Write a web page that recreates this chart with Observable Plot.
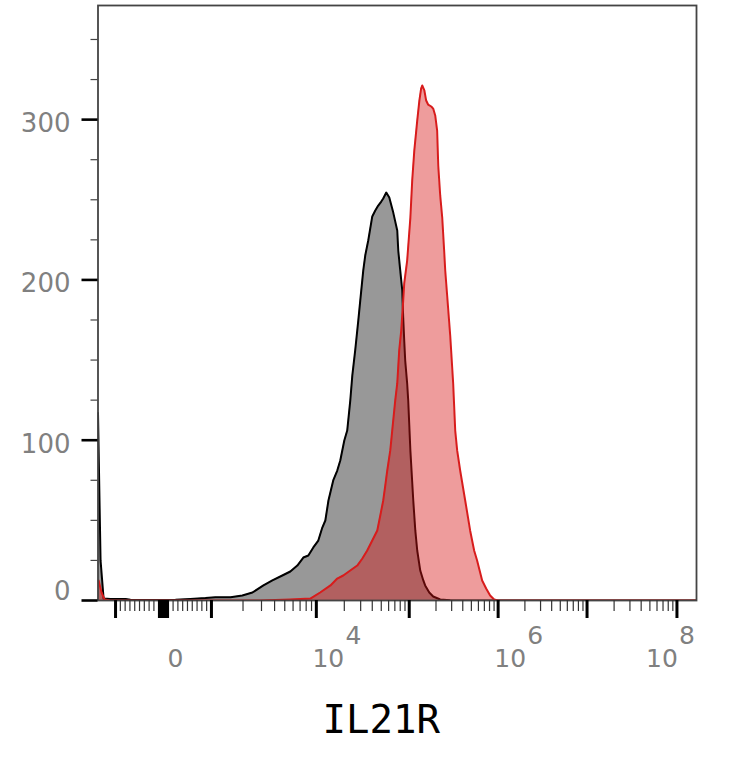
<!DOCTYPE html>
<html><head><meta charset="utf-8">
<script src="https://cdn.jsdelivr.net/npm/d3@7"></script>
<script src="https://cdn.jsdelivr.net/npm/@observablehq/plot@0.6"></script>
<style>body{margin:0;background:#fff}</style>
</head><body><div id="chart"></div>
<script>
// ---- data: fluorescence intensity (IL21R) vs. event count ----
const grayX = [-1470, -1390, -1300, -1120, -790, -690, -270, 250, 560, 875, 1090, 1520, 1970, 2460, 3130, 3810, 4740, 5650, 6590, 7520, 8390, 9360, 10500, 11600, 12500, 13500, 15200, 16800, 18100, 20000, 21500, 23200, 24400, 26200, 28300, 29700, 32000, 33600, 36200, 40000, 43100, 46400, 50000, 52500, 56600, 61000, 67300, 74300, 76200, 80000, 84100, 86100, 88300, 90500, 95000, 97500, 103000, 111000, 117000, 123000, 133000, 144000, 151000, 168000, 186000, 223000, 289000, 484000, 1e6, 1e7, 1e8, 1.65e8];
const grayCount = [117, 25, 1.2, 1, 1, 0.5, 0.3, 0.5, 1, 1.5, 2, 2, 3.1, 5, 9.4, 12.5, 15.6, 18.1, 21.8, 26.8, 28.1, 33.1, 37.4, 45.5, 49.9, 62.4, 74.9, 81.1, 87.3, 99.8, 106, 124.8, 140.4, 156, 174.7, 187.1, 205.9, 215.2, 224.6, 239.6, 243.3, 246.4, 248.9, 250.8, 254.5, 251.4, 242, 230.8, 218.3, 205.9, 193.4, 176.5, 162.2, 149.7, 135.4, 124.8, 93.6, 62.4, 43.7, 31.2, 18.7, 12.5, 9.4, 5, 2.5, 0.6, 0.2, 0, 0, 0, 0, 0];
const redX = [-1450, -1360, -1270, -1120, 2930, 4070, 5650, 7040, 8770, 11000, 14200, 16800, 19500, 23200, 27600, 31300, 35300, 40000, 45300, 48800, 52500, 55200, 58000, 62500, 65600, 70700, 74300, 78000, 82000, 86100, 88300, 95000, 103000, 108000, 114000, 123000, 130000, 136000, 140000, 148000, 155000, 163000, 177000, 186000, 196000, 206000, 212000, 223000, 235000, 247000, 254000, 267000, 289000, 312000, 329000, 346000, 374000, 426000, 484000, 537000, 580000, 661000, 733000, 813000, 902000, 1e6, 1e7, 1e8, 1.65e8];
const redCount = [12.5, 5, 0.6, 0, 0, 0.3, 0.6, 0.9, 1.2, 5, 9.4, 13.7, 15.6, 18.7, 21.8, 26.2, 31.2, 37.4, 43.7, 53, 62.4, 71.7, 81.1, 93.6, 106, 124.8, 135.4, 156, 168.4, 187.1, 197.8, 212.1, 238.9, 262, 280.7, 299.4, 311.9, 319.4, 321.3, 318.2, 311.9, 309.4, 308.2, 306.9, 302.6, 293.2, 271.4, 252.7, 238.9, 218.3, 205.9, 190.3, 165.3, 135.4, 106, 93.6, 81.1, 62.4, 43.7, 31.2, 25, 12.5, 7.5, 3.1, 0.6, 0, 0, 0, 0];

const yMajorTicks = [0, 100, 200, 300];
const yMinorTicks = [25, 50, 75, 125, 150, 175, 225, 250, 275, 325, 350];
const xMajorTicks = [-1000, 0, 1000, 1e4, 1e5, 1e6, 1e7, 1e8];
const xLabelValues = [0, 1e4, 1e6, 1e8];
const xLabelBase = ["0", "10", "10", "10"];
const xLabelExp = ["", "4", "6", "8"];
const axisTitle = "IL21R";

// ---- logicle-like display transform (linear near zero, log by decades) ----
const decadeExp = [3, 4, 5, 6, 7, 8];
const decadePos = [0.48, 1.53, 2.46, 3.35, 4.24, 5.14];
const expToPos = d3.scaleLinear().domain(decadeExp).range(decadePos);
function T(v) {
  const a = Math.abs(v);
  const p = a <= 1000 ? decadePos[0] * a / 1000 : expToPos(Math.log10(a));
  return v < 0 ? -p : p;
}
const xDomain = [T(-1470), T(1.65e8)];
const inDomain = v => T(v) >= xDomain[0] && T(v) <= xDomain[1];

const gray = grayX.map((v, i) => ({v, c: grayCount[i]}));
const red = redX.map((v, i) => ({v, c: redCount[i]}));

const xMinor = [];
for (let k = 3; k < 8; k++) for (let m = 2; m <= 9; m++) xMinor.push(m * 10 ** k);
for (let m = 1; m <= 9; m++) xMinor.push(m * 100, -m * 100);
const xFine = [];
for (let m = 1; m <= 9; m++) xFine.push(m * 10, -m * 10);

const font = "DejaVu Sans";
const labelIdx = xLabelValues.map((_, i) => i);
const lastIdx = labelIdx.length - 1;

const chart = Plot.plot({
  width: 734,
  height: 768,
  marginLeft: 97.5,
  marginRight: 38,
  marginTop: 5,
  marginBottom: 168,
  style: {background: "#fff", fontFamily: font},
  x: {domain: xDomain, type: "linear"},
  y: {domain: [0, 371.2]},
  marks: [
    Plot.areaY(gray, {x: d => T(d.v), y: "c", fill: "#989898", curve: "linear", clip: true}),
    Plot.lineY(gray, {x: d => T(d.v), y: "c", stroke: "#000", strokeWidth: 2, curve: "linear", clip: true}),
    Plot.areaY(red, {x: d => T(d.v), y: "c", fill: "rgb(215,20,20)", fillOpacity: 0.42, curve: "linear", clip: true}),
    Plot.lineY(red, {x: d => T(d.v), y: "c", stroke: "#d81c1c", strokeWidth: 2, curve: "linear", clip: true}),
    Plot.frame({stroke: "#444", strokeWidth: 1.8}),
    // y axis ticks
    Plot.axisY({ticks: yMinorTicks, tickSize: 7, stroke: "#444", strokeWidth: 1.2, tickFormat: () => "", label: null}),
    Plot.axisY({ticks: yMajorTicks, tickSize: 16, stroke: "#000", strokeWidth: 2.6, tickFormat: () => "", label: null}),
    Plot.text(yMajorTicks.filter(d => d !== 0), {y: d => d, text: d => String(d), frameAnchor: "left", dx: -27.5, dy: 4, textAnchor: "end", fontSize: 26, fill: "#808080", fontFamily: font}),
    Plot.text(yMajorTicks.filter(d => d === 0), {y: d => d, text: d => String(d), frameAnchor: "left", dx: -27.5, dy: -9, textAnchor: "end", fontSize: 26, fill: "#808080", fontFamily: font}),
    // x axis ticks
    Plot.axisX({ticks: xMinor.filter(inDomain).map(T), tickSize: 11, stroke: "#333", strokeWidth: 1.2, tickFormat: () => "", label: null}),
    Plot.axisX({ticks: xFine.map(T), tickSize: 18, stroke: "#000", strokeWidth: 2.5, tickFormat: () => "", label: null}),
    Plot.axisX({ticks: xMajorTicks.map(T), tickSize: 18, stroke: "#000", strokeWidth: 3, tickFormat: () => "", label: null}),
    // x tick labels (base and raised exponent)
    Plot.text(labelIdx.filter(i => i !== lastIdx), {x: i => T(xLabelValues[i]), text: i => xLabelBase[i], frameAnchor: "bottom", lineAnchor: "bottom", dx: 12, dy: 66, fontSize: 25, fill: "#808080", fontFamily: font}),
    Plot.text(labelIdx.filter(i => i !== lastIdx), {x: i => T(xLabelValues[i]), text: i => xLabelExp[i], frameAnchor: "bottom", lineAnchor: "bottom", dx: 37, dy: 43, fontSize: 25, fill: "#808080", fontFamily: font}),
    Plot.text([lastIdx], {x: i => T(xLabelValues[i]), text: i => xLabelBase[i], frameAnchor: "bottom", lineAnchor: "bottom", dx: -15, dy: 66, fontSize: 25, fill: "#808080", fontFamily: font}),
    Plot.text([lastIdx], {x: i => T(xLabelValues[i]), text: i => xLabelExp[i], frameAnchor: "bottom", lineAnchor: "bottom", dx: 10, dy: 43, fontSize: 25, fill: "#808080", fontFamily: font}),
    // axis title
    Plot.text([axisTitle], {text: d => d, frameAnchor: "bottom", lineAnchor: "bottom", dx: -16, dy: 132, fontSize: 39, fill: "#000", fontFamily: "DejaVu Sans Mono"})
  ]
});
document.getElementById("chart").appendChild(chart);
</script>
</body></html>
